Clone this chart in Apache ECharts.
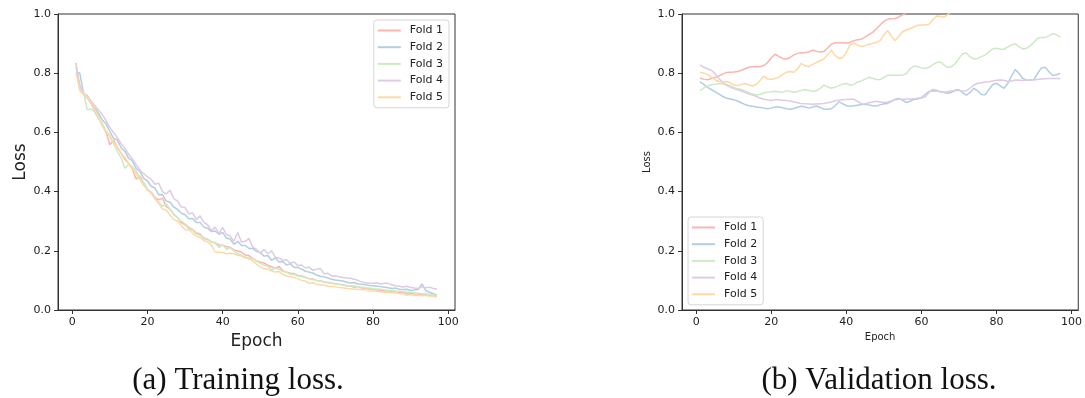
<!DOCTYPE html>
<html>
<head>
<meta charset="utf-8">
<script src="https://cdn.jsdelivr.net/npm/echarts@6/dist/echarts.min.js"></script>
<style>
  html, body { margin: 0; padding: 0; background: #fff; }
  #chart { width: 1085px; height: 398px; }
</style>
</head>
<body>
<div id="chart"></div>
<script>
// Per-fold loss curves, epochs 1..97
const foldNames = ['Fold 1', 'Fold 2', 'Fold 3', 'Fold 4', 'Fold 5'];
const foldColors = ['#fbb4ae', '#b3cde3', '#ccebc5', '#decbe4', '#fed9a6'];
const xTicks = [0, 20, 40, 60, 80, 100];

const trainFold1 = [
  0.835,0.742,0.728,0.716,0.698,0.675,0.652,0.624,0.600,0.558,
  0.574,0.549,0.530,0.509,0.495,0.476,0.442,0.452,0.428,0.405,
  0.398,0.380,0.372,0.378,0.349,0.341,0.322,0.312,0.295,0.288,
  0.276,0.271,0.259,0.254,0.243,0.239,0.230,0.227,0.220,0.219,
  0.214,0.212,0.203,0.199,0.196,0.186,0.184,0.174,0.166,0.162,
  0.159,0.151,0.146,0.140,0.147,0.133,0.128,0.124,0.123,0.117,
  0.115,0.111,0.106,0.105,0.100,0.099,0.094,0.093,0.090,0.089,
  0.086,0.085,0.081,0.081,0.077,0.079,0.074,0.074,0.071,0.071,
  0.068,0.067,0.064,0.064,0.061,0.061,0.059,0.059,0.056,0.056,
  0.054,0.054,0.051,0.051,0.049,0.049,0.047];
const trainFold2 = [
  0.805,0.800,0.732,0.724,0.702,0.682,0.664,0.642,0.628,0.603,
  0.580,0.574,0.548,0.536,0.512,0.504,0.478,0.468,0.445,0.436,
  0.418,0.412,0.389,0.390,0.368,0.364,0.348,0.340,0.327,0.322,
  0.308,0.309,0.296,0.296,0.280,0.276,0.265,0.267,0.256,0.262,
  0.243,0.240,0.222,0.232,0.218,0.218,0.208,0.208,0.198,0.194,
  0.182,0.184,0.168,0.176,0.162,0.164,0.152,0.156,0.144,0.144,
  0.138,0.131,0.128,0.125,0.118,0.114,0.112,0.108,0.104,0.101,
  0.100,0.098,0.094,0.091,0.093,0.088,0.087,0.085,0.083,0.082,
  0.080,0.079,0.077,0.075,0.073,0.074,0.070,0.069,0.070,0.066,
  0.068,0.069,0.088,0.066,0.060,0.055,0.051];
const trainFold3 = [
  0.828,0.750,0.735,0.676,0.680,0.668,0.646,0.630,0.604,0.585,
  0.560,0.536,0.514,0.479,0.492,0.484,0.469,0.446,0.430,0.410,
  0.394,0.376,0.364,0.350,0.359,0.340,0.325,0.311,0.300,0.291,
  0.280,0.273,0.262,0.258,0.241,0.238,0.230,0.226,0.211,0.220,
  0.205,0.210,0.200,0.191,0.185,0.180,0.171,0.173,0.165,0.158,
  0.151,0.148,0.135,0.141,0.138,0.130,0.128,0.121,0.120,0.115,
  0.113,0.110,0.105,0.103,0.100,0.098,0.095,0.092,0.090,0.088,
  0.087,0.085,0.083,0.080,0.082,0.078,0.078,0.075,0.074,0.072,
  0.071,0.070,0.068,0.066,0.067,0.064,0.063,0.062,0.061,0.060,
  0.058,0.057,0.055,0.056,0.052,0.050,0.050];
const trainFold4 = [
  0.820,0.762,0.732,0.721,0.706,0.690,0.675,0.660,0.640,0.616,
  0.599,0.582,0.562,0.546,0.526,0.510,0.491,0.472,0.461,0.450,
  0.441,0.425,0.428,0.400,0.392,0.405,0.376,0.368,0.348,0.346,
  0.325,0.328,0.305,0.318,0.296,0.288,0.268,0.280,0.258,0.279,
  0.255,0.250,0.232,0.262,0.230,0.232,0.242,0.212,0.205,0.192,
  0.204,0.190,0.200,0.178,0.175,0.168,0.170,0.158,0.162,0.150,
  0.152,0.142,0.145,0.134,0.138,0.140,0.122,0.124,0.115,0.116,
  0.112,0.110,0.108,0.107,0.104,0.100,0.095,0.092,0.090,0.090,
  0.092,0.088,0.090,0.090,0.085,0.082,0.080,0.078,0.080,0.076,
  0.074,0.073,0.078,0.075,0.077,0.073,0.071];
const trainFold5 = [
  0.800,0.745,0.730,0.720,0.701,0.680,0.650,0.621,0.605,0.590,
  0.566,0.550,0.530,0.515,0.495,0.476,0.460,0.440,0.421,0.406,
  0.395,0.376,0.360,0.341,0.338,0.320,0.306,0.300,0.285,0.271,
  0.272,0.260,0.250,0.245,0.235,0.230,0.220,0.196,0.195,0.194,
  0.190,0.192,0.190,0.185,0.182,0.175,0.178,0.165,0.155,0.146,
  0.140,0.138,0.132,0.128,0.130,0.120,0.115,0.113,0.110,0.105,
  0.100,0.098,0.090,0.092,0.087,0.085,0.084,0.080,0.079,0.079,
  0.076,0.075,0.073,0.072,0.070,0.070,0.068,0.068,0.065,0.064,
  0.063,0.062,0.060,0.060,0.058,0.058,0.056,0.055,0.050,0.052,
  0.050,0.049,0.048,0.050,0.047,0.046,0.045];

const valFold1 = [
  0.783,0.780,0.778,0.782,0.786,0.790,0.797,0.802,0.803,0.804,
  0.806,0.810,0.815,0.820,0.822,0.823,0.822,0.826,0.836,0.852,
  0.864,0.857,0.850,0.848,0.853,0.862,0.867,0.869,0.870,0.872,
  0.878,0.874,0.872,0.873,0.885,0.898,0.903,0.903,0.903,0.902,
  0.904,0.910,0.913,0.915,0.922,0.930,0.938,0.950,0.963,0.975,
  0.982,0.984,0.985,0.990,0.997,1.004,1.012,1.020,1.028,1.035,
  1.040,1.050,1.055,1.062,1.070,1.078,1.083,1.090,1.100,1.105,
  1.112,1.120,1.125,1.133,1.140,1.148,1.155,1.160,1.168,1.175,
  1.182,1.190,1.196,1.204,1.210,1.218,1.225,1.230,1.238,1.245,
  1.250,1.258,1.265,1.270,1.278,1.285,1.290];
const valFold2 = [
  0.771,0.762,0.752,0.745,0.738,0.730,0.722,0.716,0.713,0.710,
  0.706,0.700,0.694,0.690,0.688,0.686,0.684,0.682,0.680,0.682,
  0.686,0.686,0.683,0.680,0.678,0.681,0.685,0.688,0.686,0.682,
  0.686,0.689,0.684,0.679,0.678,0.680,0.690,0.703,0.697,0.690,
  0.688,0.690,0.692,0.694,0.695,0.693,0.690,0.689,0.693,0.697,
  0.698,0.704,0.712,0.715,0.708,0.701,0.705,0.712,0.713,0.718,
  0.728,0.738,0.741,0.740,0.738,0.735,0.732,0.735,0.743,0.744,
  0.734,0.726,0.735,0.749,0.740,0.728,0.727,0.745,0.762,0.766,
  0.757,0.749,0.765,0.790,0.812,0.800,0.782,0.777,0.776,0.778,
  0.800,0.818,0.820,0.805,0.792,0.795,0.800];
const valFold3 = [
  0.741,0.750,0.757,0.761,0.763,0.764,0.764,0.762,0.758,0.752,
  0.748,0.745,0.740,0.735,0.730,0.727,0.728,0.733,0.736,0.737,
  0.739,0.737,0.735,0.741,0.738,0.736,0.738,0.742,0.744,0.742,
  0.738,0.741,0.748,0.760,0.754,0.749,0.753,0.758,0.763,0.765,
  0.760,0.762,0.770,0.774,0.780,0.786,0.783,0.779,0.778,0.786,
  0.793,0.794,0.793,0.793,0.794,0.798,0.815,0.824,0.822,0.818,
  0.816,0.820,0.828,0.836,0.838,0.828,0.820,0.822,0.832,0.850,
  0.866,0.868,0.855,0.848,0.850,0.856,0.862,0.872,0.882,0.884,
  0.882,0.881,0.888,0.896,0.899,0.890,0.882,0.884,0.893,0.905,
  0.918,0.921,0.921,0.926,0.934,0.930,0.922];
const valFold4 = [
  0.828,0.820,0.815,0.810,0.798,0.782,0.770,0.760,0.753,0.748,
  0.744,0.740,0.735,0.730,0.726,0.722,0.716,0.712,0.710,0.708,
  0.710,0.710,0.709,0.708,0.706,0.703,0.700,0.698,0.697,0.696,
  0.695,0.696,0.697,0.698,0.700,0.703,0.707,0.709,0.710,0.711,
  0.712,0.712,0.705,0.696,0.697,0.700,0.703,0.705,0.703,0.701,
  0.703,0.706,0.710,0.712,0.712,0.712,0.713,0.714,0.715,0.716,
  0.720,0.735,0.745,0.743,0.737,0.736,0.738,0.740,0.741,0.742,
  0.740,0.741,0.750,0.760,0.766,0.768,0.770,0.771,0.774,0.776,
  0.777,0.776,0.772,0.774,0.777,0.776,0.775,0.776,0.777,0.778,
  0.779,0.780,0.781,0.782,0.782,0.782,0.781];
const valFold5 = [
  0.802,0.801,0.795,0.787,0.778,0.772,0.770,0.772,0.768,0.760,
  0.758,0.762,0.765,0.760,0.757,0.762,0.775,0.790,0.780,0.779,
  0.782,0.786,0.795,0.803,0.806,0.803,0.815,0.833,0.825,0.822,
  0.830,0.836,0.842,0.848,0.862,0.878,0.860,0.850,0.852,0.872,
  0.895,0.902,0.895,0.890,0.893,0.898,0.901,0.904,0.910,0.930,
  0.944,0.925,0.910,0.925,0.940,0.946,0.950,0.956,0.962,0.963,
  0.963,0.965,0.980,0.993,0.992,0.989,0.998,1.008,1.015,1.020,
  1.030,1.035,1.040,1.050,1.055,1.060,1.068,1.075,1.080,1.088,
  1.095,1.100,1.108,1.115,1.120,1.128,1.135,1.140,1.148,1.155,
  1.160,1.168,1.175,1.180,1.188,1.195,1.200];

const trainSets = [trainFold1, trainFold2, trainFold3, trainFold4, trainFold5];
const valSets = [valFold1, valFold2, valFold3, valFold4, valFold5];

const FONT = 'DejaVu Sans';
const TEXT = '#222';

function pairs(values) {
  return values.map((v, i) => [i + 1, v]);
}

function xAxisFor(gridIndex, nameSize, nameGap) {
  return {
    type: 'value', gridIndex: gridIndex,
    min: -3.8, max: 101.8,
    name: 'Epoch', nameLocation: 'middle', nameGap: nameGap,
    nameTextStyle: { fontFamily: FONT, fontSize: nameSize, color: TEXT },
    axisLine: { show: true, onZero: false, lineStyle: { color: '#333', width: 1 } },
    axisTick: { show: true, length: 4, customValues: xTicks, lineStyle: { color: '#333' } },
    axisLabel: { customValues: xTicks, margin: 7, fontFamily: FONT, fontSize: 11, color: TEXT },
    splitLine: { show: false }
  };
}

function yAxisFor(gridIndex, nameSize, nameGap) {
  return {
    type: 'value', gridIndex: gridIndex,
    min: 0, max: 1, interval: 0.2,
    name: 'Loss', nameLocation: 'middle', nameGap: nameGap,
    nameTextStyle: { fontFamily: FONT, fontSize: nameSize, color: TEXT },
    axisLine: { show: true, onZero: false, lineStyle: { color: '#333', width: 1 } },
    axisTick: { show: true, length: 4, lineStyle: { color: '#333' } },
    axisLabel: { margin: 7, fontFamily: FONT, fontSize: 11, color: TEXT,
                 formatter: v => v.toFixed(1) },
    splitLine: { show: false }
  };
}

function legendAt(pos) {
  return Object.assign({
    orient: 'vertical',
    data: foldNames,
    icon: 'rect',
    itemWidth: 23, itemHeight: 2,
    itemGap: 5.7,
    itemStyle: { borderWidth: 0 },
    textStyle: { fontFamily: FONT, fontSize: 11, color: TEXT, lineHeight: 11, padding: [0, 0, 0, 4] },
    backgroundColor: 'rgba(255,255,255,0.8)',
    borderColor: '#d6d6d6', borderWidth: 1, borderRadius: 3,
    padding: [5, 6, 5, 4],
    selectedMode: false
  }, pos);
}

const series = [];
foldNames.forEach((name, k) => {
  series.push({
    name: name, type: 'line', xAxisIndex: 0, yAxisIndex: 0,
    data: pairs(trainSets[k]), showSymbol: false, symbol: 'none',
    lineStyle: { color: foldColors[k], width: 1.5 },
    itemStyle: { color: foldColors[k] },
    clip: true, animation: false
  });
});
foldNames.forEach((name, k) => {
  series.push({
    name: name, type: 'line', xAxisIndex: 1, yAxisIndex: 1,
    data: pairs(valSets[k]), showSymbol: false, symbol: 'none',
    lineStyle: { color: foldColors[k], width: 1.5 },
    itemStyle: { color: foldColors[k] },
    clip: true, animation: false
  });
});

const option = {
  backgroundColor: '#fff',
  animation: false,
  grid: [
    { left: 58, top: 14, width: 397, height: 296, show: true, borderColor: '#333', borderWidth: 1 },
    { left: 682, top: 14, width: 397, height: 296, show: true, borderColor: '#333', borderWidth: 1 }
  ],
  xAxis: [xAxisFor(0, 17, 21), xAxisFor(1, 10, 21)],
  yAxis: [yAxisFor(0, 17, 29), yAxisFor(1, 10, 30)],
  legend: [
    legendAt({ right: 636, top: 20 }),
    legendAt({ left: 688, top: 217 })
  ],
  series: series,
  graphic: [
    { type: 'text', x: 238, y: 381,
      style: { text: '(a) Training loss.', font: '31px "Liberation Serif"', fill: '#111',
               textAlign: 'center', textVerticalAlign: 'middle' } },
    { type: 'text', x: 879, y: 381,
      style: { text: '(b) Validation loss.', font: '31px "Liberation Serif"', fill: '#111',
               textAlign: 'center', textVerticalAlign: 'middle' } }
  ]
};

const chart = echarts.init(document.getElementById('chart'), null, { renderer: 'canvas' });
chart.setOption(option);
</script>
</body>
</html>
